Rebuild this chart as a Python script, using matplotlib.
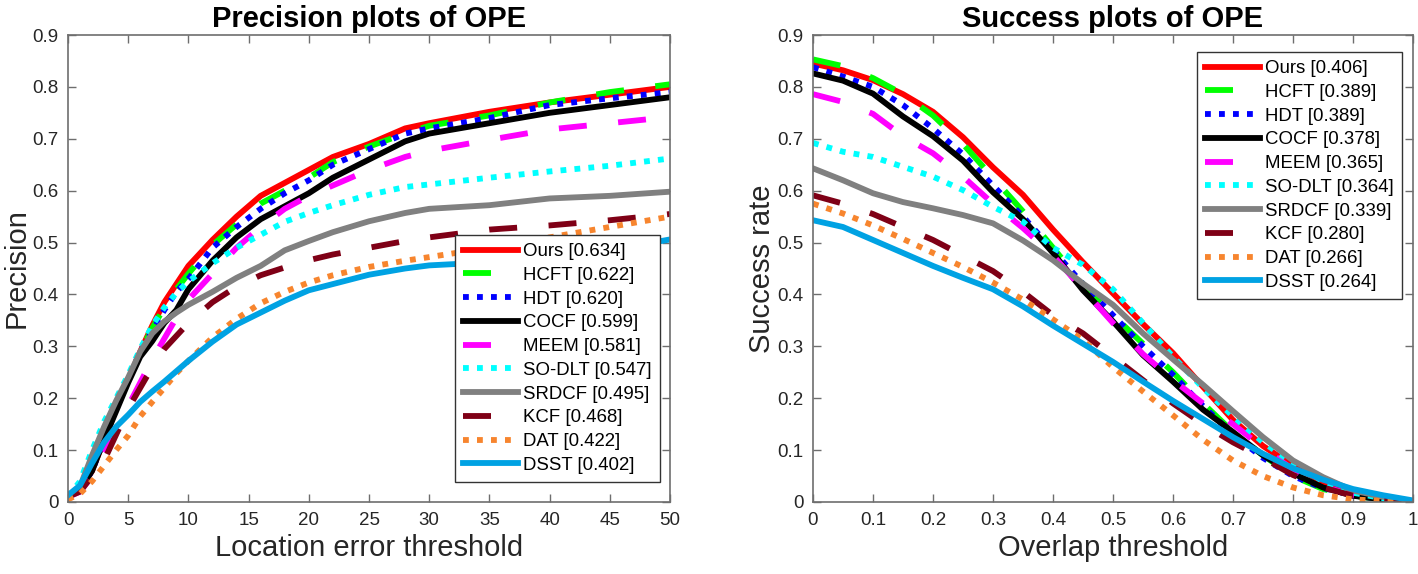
import matplotlib
matplotlib.use("Agg")
import matplotlib.pyplot as plt
from matplotlib.lines import Line2D

plt.rcParams['font.family'] = ['Liberation Sans', 'DejaVu Sans']

# ---------------- data ----------------
trackers = ["Ours", "HCFT", "HDT", "COCF", "MEEM", "SO-DLT", "SRDCF", "KCF", "DAT", "DSST"]
prec_scores = ["0.634", "0.622", "0.620", "0.599", "0.581", "0.547", "0.495", "0.468", "0.422", "0.402"]
succ_scores = ["0.406", "0.389", "0.389", "0.378", "0.365", "0.364", "0.339", "0.280", "0.266", "0.264"]

prec_x = [0, 1, 2, 3, 4, 5, 6, 7, 8, 9, 10, 12, 14, 16, 18, 20, 22, 25, 28, 30, 35, 40, 45, 50]
prec_ours  = [0.010, 0.025, 0.060, 0.120, 0.180, 0.235, 0.290, 0.340, 0.385, 0.420, 0.455, 0.505, 0.550, 0.590, 0.615, 0.640, 0.665, 0.690, 0.720, 0.730, 0.752, 0.770, 0.785, 0.800]
prec_hcft  = [0.010, 0.025, 0.060, 0.120, 0.180, 0.235, 0.290, 0.335, 0.375, 0.410, 0.440, 0.495, 0.535, 0.575, 0.600, 0.625, 0.655, 0.685, 0.710, 0.725, 0.745, 0.770, 0.790, 0.805]
prec_hdt   = [0.010, 0.025, 0.060, 0.120, 0.180, 0.235, 0.290, 0.330, 0.370, 0.405, 0.430, 0.490, 0.530, 0.565, 0.595, 0.620, 0.650, 0.680, 0.710, 0.720, 0.740, 0.765, 0.778, 0.790]
prec_cocf  = [0.010, 0.025, 0.060, 0.120, 0.175, 0.230, 0.280, 0.310, 0.345, 0.370, 0.410, 0.465, 0.510, 0.545, 0.570, 0.595, 0.625, 0.660, 0.695, 0.710, 0.730, 0.750, 0.765, 0.780]
prec_meem  = [0.010, 0.020, 0.050, 0.100, 0.145, 0.185, 0.230, 0.275, 0.315, 0.355, 0.390, 0.440, 0.490, 0.530, 0.565, 0.590, 0.610, 0.640, 0.665, 0.677, 0.698, 0.718, 0.730, 0.742]
prec_sodlt = [0.010, 0.040, 0.100, 0.155, 0.200, 0.245, 0.295, 0.340, 0.375, 0.403, 0.425, 0.460, 0.490, 0.515, 0.540, 0.557, 0.572, 0.592, 0.607, 0.612, 0.625, 0.637, 0.648, 0.662]
prec_srdcf = [0.010, 0.030, 0.090, 0.145, 0.195, 0.240, 0.290, 0.325, 0.348, 0.365, 0.380, 0.405, 0.432, 0.455, 0.485, 0.503, 0.520, 0.541, 0.557, 0.565, 0.572, 0.585, 0.590, 0.598]
prec_kcf   = [0.010, 0.020, 0.050, 0.080, 0.130, 0.180, 0.220, 0.260, 0.295, 0.320, 0.345, 0.385, 0.415, 0.437, 0.452, 0.466, 0.477, 0.490, 0.503, 0.510, 0.525, 0.533, 0.543, 0.555]
prec_dat   = [0.005, 0.016, 0.040, 0.070, 0.100, 0.128, 0.165, 0.193, 0.220, 0.248, 0.272, 0.317, 0.353, 0.383, 0.405, 0.423, 0.437, 0.453, 0.465, 0.472, 0.490, 0.510, 0.530, 0.550]
prec_dsst  = [0.013, 0.032, 0.075, 0.115, 0.145, 0.168, 0.193, 0.213, 0.232, 0.252, 0.272, 0.309, 0.342, 0.365, 0.388, 0.408, 0.420, 0.438, 0.450, 0.456, 0.462, 0.468, 0.485, 0.506]

succ_x = [0.0, 0.05, 0.1, 0.15, 0.2, 0.25, 0.3, 0.35, 0.4, 0.45, 0.5, 0.55, 0.6, 0.65, 0.7, 0.75, 0.8, 0.85, 0.9, 0.95, 1.0]
succ_ours  = [0.845, 0.832, 0.813, 0.786, 0.752, 0.703, 0.645, 0.592, 0.525, 0.462, 0.402, 0.343, 0.287, 0.222, 0.158, 0.108, 0.070, 0.038, 0.020, 0.008, 0.000]
succ_hcft  = [0.853, 0.840, 0.817, 0.786, 0.745, 0.690, 0.625, 0.560, 0.490, 0.420, 0.360, 0.305, 0.250, 0.190, 0.135, 0.090, 0.050, 0.025, 0.012, 0.005, 0.000]
succ_hdt   = [0.838, 0.820, 0.800, 0.765, 0.720, 0.670, 0.610, 0.550, 0.485, 0.420, 0.360, 0.300, 0.245, 0.185, 0.130, 0.085, 0.050, 0.027, 0.013, 0.005, 0.000]
succ_cocf  = [0.826, 0.812, 0.787, 0.743, 0.705, 0.658, 0.597, 0.545, 0.480, 0.408, 0.348, 0.283, 0.232, 0.178, 0.135, 0.090, 0.055, 0.028, 0.012, 0.005, 0.000]
succ_meem  = [0.786, 0.771, 0.748, 0.705, 0.672, 0.627, 0.575, 0.528, 0.475, 0.410, 0.345, 0.285, 0.235, 0.190, 0.150, 0.105, 0.062, 0.030, 0.013, 0.005, 0.000]
succ_sodlt = [0.692, 0.675, 0.665, 0.646, 0.627, 0.601, 0.569, 0.540, 0.490, 0.457, 0.410, 0.345, 0.280, 0.220, 0.165, 0.115, 0.075, 0.040, 0.018, 0.007, 0.000]
succ_srdcf = [0.643, 0.620, 0.595, 0.578, 0.566, 0.553, 0.537, 0.504, 0.466, 0.421, 0.380, 0.325, 0.275, 0.226, 0.175, 0.125, 0.080, 0.048, 0.022, 0.010, 0.000]
succ_kcf   = [0.591, 0.575, 0.555, 0.530, 0.505, 0.475, 0.445, 0.405, 0.360, 0.325, 0.280, 0.235, 0.190, 0.150, 0.115, 0.085, 0.052, 0.028, 0.012, 0.005, 0.000]
succ_dat   = [0.575, 0.556, 0.533, 0.507, 0.480, 0.453, 0.423, 0.390, 0.352, 0.312, 0.260, 0.213, 0.167, 0.120, 0.080, 0.050, 0.028, 0.013, 0.005, 0.002, 0.000]
succ_dsst  = [0.543, 0.530, 0.505, 0.480, 0.455, 0.432, 0.410, 0.377, 0.340, 0.305, 0.270, 0.232, 0.195, 0.160, 0.125, 0.093, 0.065, 0.043, 0.025, 0.013, 0.003]

prec_series = [prec_ours, prec_hcft, prec_hdt, prec_cocf, prec_meem, prec_sodlt, prec_srdcf, prec_kcf, prec_dat, prec_dsst]
succ_series = [succ_ours, succ_hcft, succ_hdt, succ_cocf, succ_meem, succ_sodlt, succ_srdcf, succ_kcf, succ_dat, succ_dsst]

prec_xticks = [0, 5, 10, 15, 20, 25, 30, 35, 40, 45, 50]
prec_xticklabels = ["0", "5", "10", "15", "20", "25", "30", "35", "40", "45", "50"]
succ_xticks = [0, 0.1, 0.2, 0.3, 0.4, 0.5, 0.6, 0.7, 0.8, 0.9, 1.0]
succ_xticklabels = ["0", "0.1", "0.2", "0.3", "0.4", "0.5", "0.6", "0.7", "0.8", "0.9", "1"]
yticks = [0, 0.1, 0.2, 0.3, 0.4, 0.5, 0.6, 0.7, 0.8, 0.9]
yticklabels = ["0", "0.1", "0.2", "0.3", "0.4", "0.5", "0.6", "0.7", "0.8", "0.9"]

# ---------------- styles ----------------
colors = ["#ff0000", "#00ff00", "#0000ff", "#000000", "#ff00ff", "#00ffff",
          "#808080", "#7f0016", "#f7852e", "#00a2e3"]
DASH = (0, (4.8, 5.4))
DOT = (0, (1.0, 1.4))
styles = ["-", DASH, DOT, "-", DASH, DOT, "-", DASH, DOT, "-"]
LW = 4.2

W, H = 1418, 574
fig = plt.figure(figsize=(W / 100, H / 100), dpi=100)
ax1 = fig.add_axes([68 / W, 1 - 502 / H, 602 / W, 467 / H])
ax2 = fig.add_axes([813 / W, 1 - 502 / H, 600 / W, 467 / H])

spine_col = "#6e6e6e"
text_col = "#262626"


def setup(ax, xs, series, scores, xlim, xticks, xticklabels, title, xlabel, ylabel, leg_anchor):
    handles = []
    for name, ys, sc, c, ls in zip(trackers, series, scores, colors, styles):
        ax.plot(xs, ys, color=c, linestyle=ls, linewidth=LW, dash_capstyle="butt",
                solid_joinstyle="round")
        handles.append(Line2D([], [], color=c, linestyle=ls, linewidth=LW, dash_capstyle="butt",
                              label=f"{name} [{sc}]"))
    ax.set_xlim(*xlim)
    ax.set_ylim(0, 0.9)
    ax.set_xticks(xticks)
    ax.set_xticklabels(xticklabels)
    ax.set_yticks(yticks)
    ax.set_yticklabels(yticklabels)
    ax.tick_params(direction="in", length=6, width=1, colors=spine_col, labelcolor=text_col,
                   labelsize=13.5, top=True, right=True, pad=7)
    for s in ax.spines.values():
        s.set_color(spine_col)
        s.set_linewidth(1.2)
    ax.set_title(title, fontsize=21, fontweight="bold", pad=6)
    ax.set_xlabel(xlabel, fontsize=21, color=text_col, labelpad=4)
    ax.set_ylabel(ylabel, fontsize=21, color=text_col, labelpad=1)
    leg = ax.legend(handles=handles, loc="upper left", bbox_to_anchor=leg_anchor,
                    fontsize=13.4, handlelength=2.95, handletextpad=0.23, labelspacing=0.36,
                    borderpad=0.45, borderaxespad=0, fancybox=False, framealpha=1,
                    edgecolor="#333333")
    leg.get_frame().set_linewidth(1.0)


setup(ax1, prec_x, prec_series, prec_scores, (0, 50), prec_xticks, prec_xticklabels,
      "Precision plots of OPE", "Location error threshold", "Precision", (0.643, 0.572))
setup(ax2, succ_x, succ_series, succ_scores, (0, 1), succ_xticks, succ_xticklabels,
      "Success plots of OPE", "Overlap threshold", "Success rate", (0.64, 0.964))

fig.savefig("out.png", dpi=100)
